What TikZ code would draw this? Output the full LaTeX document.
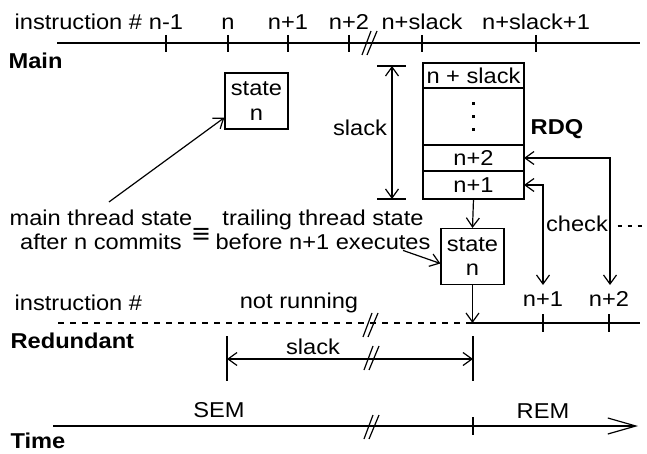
\documentclass[tikz,border=0pt]{standalone}
\usepackage{fontspec}
\setmainfont[FakeStretch=1.1]{Liberation Sans}
\usetikzlibrary{arrows.meta,positioning}

\tikzset{
  lbl/.style={anchor=base, inner sep=0pt},
  box/.style={draw, minimum width=63pt, minimum height=56pt, align=center, inner sep=0pt},
  row/.style={draw, minimum width=101pt, inner sep=0pt, outer sep=0pt},
  brk/.pic={\draw (-8,12) -- (1,-12) (-3,12) -- (7,-12);},
}

\begin{document}
\begin{tikzpicture}[x=1pt, y=-1pt, line width=1.2pt,
    >={Straight Barb[length=9pt,width=13pt]},
    font=\fontsize{21.5}{24.5}\selectfont]
\useasboundingbox (0,0) rectangle (647,454);

% main thread timeline
\node[lbl, anchor=base west] (instrM) at (14,30) {instruction \#};
\node[lbl, anchor=base west] (mainlbl) at (8,69) {\textbf{Main}};
\coordinate (mainL) at (57,43);
\coordinate (mainR) at (640,43);
\draw (mainL) -- (mainR);
\foreach \x/\t in {166/n-1, 228/n, 288/n+1, 349/n+2, 422/n+slack, 536/n+slack+1} {
  \draw (\x,35) -- (\x,52);
  \node[lbl] (tm\x) at (\x,30) {\t};
}
\pic at (370,43) {brk};

% committed state
\node[box] (state1) at (256.5,101) {state\\n};

% RDQ
\node[row, minimum height=25pt] (rdqtop) at (473.5,75.5) {n + slack};
\node[row, minimum height=57pt, below=0pt of rdqtop] (rdqdots) {};
\node[row, minimum height=26pt, below=0pt of rdqdots] (rdq2) {n+2};
\node[row, minimum height=28pt, below=0pt of rdq2] (rdq1) {n+1};
\foreach \d in {-13,0,13}
  \fill ([shift={(-1.5,\d-1.5)}]rdqdots.center) rectangle ++(3,3);
\node[lbl] (rdq) at (557,135) {\textbf{RDQ}};

% slack (queue depth)
\coordinate (sTop) at (392,66);
\coordinate (sBot) at (392,199);
\draw ([xshift=-15pt]sTop) -- ([xshift=14pt]sTop);
\draw ([xshift=-15pt]sBot) -- ([xshift=14pt]sBot);
\draw[<->] (sTop) -- (sBot);
\node[lbl] (slackV) at (360,136) {slack};

% equivalent states
\node[align=center, inner sep=0pt] (mainstate) at (101,229.7) {main thread state\\after n commits};
\node[inner sep=0pt, font=\fontsize{28}{28}\selectfont] (equiv) at (201,236) {≡};
\node[align=center, inner sep=0pt] (trailstate) at (323,229.7) {trailing thread state\\before n+1 executes};
\node[box] (state2) at (472.5,256.5) {state\\n};
\draw[->] ([xshift=8pt,yshift=7pt]mainstate.north) -- ([yshift=12pt]state1.south west);
\draw[->] ([xshift=-28pt]trailstate.south east) -- ([yshift=-7pt]state2.west);
\draw[->] (rdq1.south) -- (state2.north);

% checks against the queue
\coordinate (chk1) at (543,285);
\coordinate (chk2) at (610,285);
\draw[<->] (rdq1.east) -| (chk1);
\draw[<->] (rdq2.east) -| (chk2);
\node[lbl] (check) at (577,232) {check};
\draw[line width=1.6pt, dash pattern=on 4pt off 6pt] ([xshift=9pt,yshift=-1.5pt]check.east) -- ++(31,0);

% redundant thread timeline
\node[lbl, anchor=base west] (instrR) at (14,310) {instruction \#};
\node[lbl, anchor=base west] (redlbl) at (10,348) {\textbf{Redundant}};
\node[lbl] (notrun) at (299,308) {not running};
\coordinate (redL) at (58,323);
\coordinate (redM) at (472,323);
\coordinate (redR) at (640,323);
\draw[dash pattern=on 6pt off 6pt] (redL) -- (redM);
\draw (redM) -- (redR);
\draw[->] (state2.south) -- (state2.south |- redM);
\foreach \x/\t in {543/n+1, 609/n+2} {
  \draw (\x,314) -- (\x,332);
  \node[lbl] (tr\x) at (\x,306) {\t};
}
\pic at (371,325) {brk};

% slack (time)
\coordinate (hsL) at (227,359);
\coordinate (hsR) at (473,359);
\draw ([yshift=23pt]hsL) -- ([yshift=-22pt]hsL);
\draw ([yshift=23pt]hsR) -- ([yshift=-22pt]hsR);
\draw[<->] (hsL) -- (hsR);
\node[lbl] (slackH) at (313,354) {slack};
\pic at (372,358) {brk};

% time axis
\node[lbl, anchor=base west] (timelbl) at (10,448) {\textbf{Time}};
\coordinate (tL) at (53,426);
\coordinate (tR) at (638,426);
\draw[-{Straight Barb[length=28pt,width=16pt]}] (tL) -- (tR);
\draw (473,417) -- (473,435);
\pic at (372,427) {brk};
\node[lbl] (sem) at (219,417) {SEM};
\node[lbl] (rem) at (543,418) {REM};
\end{tikzpicture}
\end{document}
